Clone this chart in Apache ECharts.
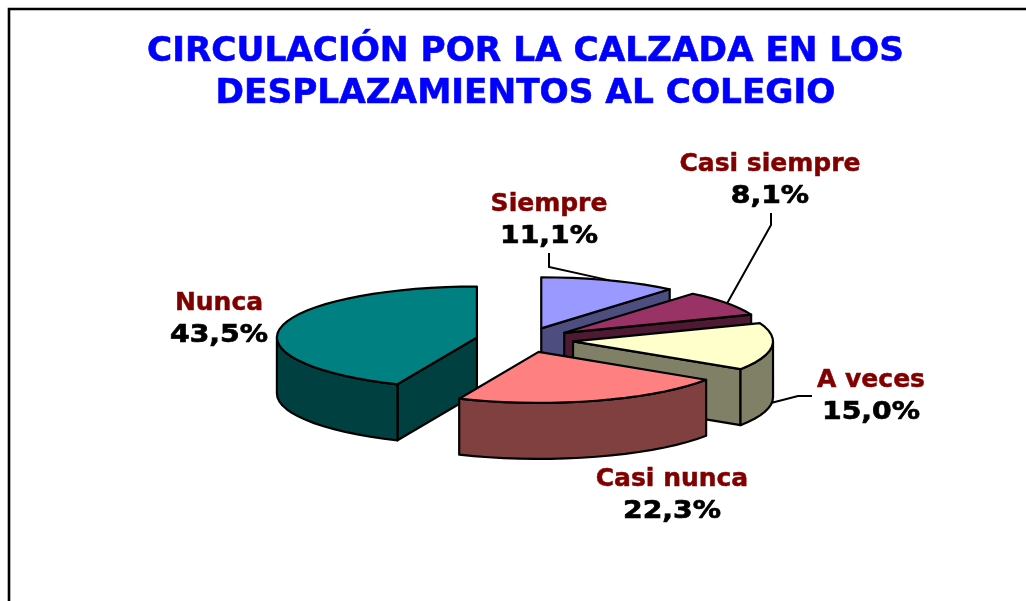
<!DOCTYPE html>
<html><head><meta charset="utf-8">
<style>html,body{margin:0;padding:0;background:#fff}#c{width:1026px;height:601px}</style>
<script src="https://cdn.jsdelivr.net/npm/echarts@6/dist/echarts.min.js"></script>
</head><body><div id="c"></div>
<script>
var titleLines = ['CIRCULACIÓN POR LA CALZADA EN LOS', 'DESPLAZAMIENTOS AL COLEGIO'];
var categories = ['Siempre', 'Casi siempre', 'A veces', 'Casi nunca', 'Nunca'];
var shares = [11.1, 8.1, 15.0, 22.3, 43.5];
var topColors = ['#9999FF', '#993366', '#FFFFCC', '#FF8080', '#008080'];
var wallColors = ['#4D4D80', '#4D1933', '#808066', '#804040', '#004040'];
var labelAnchors = [[549, 220], [770, 180], [871, 396], [672, 495], [219, 319]];
var leaderBends = [[[549, 253], [549, 267]], [[771, 213], [771, 225]], [[812, 396], [798, 396]], null, null];

var pie = {cx: 524.6, cy: 340, rx: 200, ry: 51, depth: 56, explode: 48.7};
var total = shares.reduce(function (a, b) { return a + b; }, 0);

function rad(share) { return share / total * 2 * Math.PI; }
function rim(c, t) { return [c[0] + pie.rx * Math.sin(t), c[1] - pie.ry * Math.cos(t)]; }
function drop(p) { return [p[0], p[1] + pie.depth]; }
function arc(c, a, b) {
  var pts = [], n = Math.max(2, Math.ceil((b - a) / 0.08));
  for (var i = 0; i <= n; i++) pts.push(rim(c, a + (b - a) * i / n));
  return pts;
}
function poly(points, fill, z) {
  return {type: 'polygon', z2: z, shape: {points: points},
    style: {fill: fill, stroke: '#000', lineWidth: 2.2, lineJoin: 'round'}};
}

function renderSlice(params, api) {
  var i = params.dataIndex, start = 0;
  for (var k = 0; k < i; k++) start += rad(shares[k]);
  var sweep = rad(api.value(0)), end = start + sweep, mid = start + sweep / 2;
  var c = [pie.cx + pie.explode * Math.sin(mid),
           pie.cy - pie.explode * pie.ry / pie.rx * Math.cos(mid)];
  var base = Math.round(c[1]) * 10, kids = [];
  var cb = drop(c);
  if (Math.sin(start) < 0) {
    var s = rim(c, start);
    kids.push(poly([c, s, drop(s), cb], wallColors[i], base));
  }
  if (Math.sin(end) > 0) {
    var e = rim(c, end);
    kids.push(poly([c, e, drop(e), cb], wallColors[i], base + 1));
  }
  var a = Math.max(start, Math.PI / 2), b = Math.min(end, 1.5 * Math.PI);
  if (b > a) {
    var front = arc(c, a, b);
    kids.push(poly(front.concat(front.slice().reverse().map(drop)), wallColors[i], base + 2));
  }
  kids.push(poly([c].concat(arc(c, start, end)), topColors[i], base + 3));

  if (leaderBends[i]) {
    var tip = rim(c, mid);
    if (Math.cos(mid) < 0) tip = drop(tip);
    kids.push({type: 'polyline', z2: 9000, shape: {points: leaderBends[i].concat([tip])},
      style: {fill: null, stroke: '#000', lineWidth: 2}});
  }
  var la = labelAnchors[i];
  kids.push({type: 'text', z2: 9001, x: la[0], y: la[1] - 16,
    style: {text: categories[i], fill: '#800000', stroke: '#800000', lineWidth: 0.5, align: 'center',
      verticalAlign: 'middle', font: 'bold 25px "DejaVu Sans"'}});
  kids.push({type: 'text', z2: 9001, x: la[0], y: la[1] + 16, scaleX: 1.13,
    style: {text: api.value(0).toFixed(1).replace('.', ',') + '%', fill: '#000', stroke: '#000', lineWidth: 0.7,
      align: 'center', verticalAlign: 'middle', font: 'bold 25px "DejaVu Sans"'}});
  return {type: 'group', children: kids};
}

var chart = echarts.init(document.getElementById('c'), null, {renderer: 'canvas'});
chart.setOption({
  animation: false,
  backgroundColor: '#fff',
  title: {text: titleLines.join('\n'), left: 520.5, top: 26.5, textAlign: 'center',
    textStyle: {color: '#0000FF', textBorderColor: '#0000FF', textBorderWidth: 0.6, fontFamily: 'DejaVu Sans',
      fontWeight: 'bold', fontSize: 34.3, lineHeight: 42}},
  graphic: [{type: 'rect', silent: true, z: -1, shape: {x: 9, y: 9, width: 1100, height: 700},
    style: {fill: '#fff', stroke: '#000', lineWidth: 2.6}}],
  series: [{type: 'custom', coordinateSystem: 'none', clip: false,
    data: shares.map(function (v, i) { return {name: categories[i], value: [v]}; }),
    renderItem: renderSlice}]
});
</script></body></html>
